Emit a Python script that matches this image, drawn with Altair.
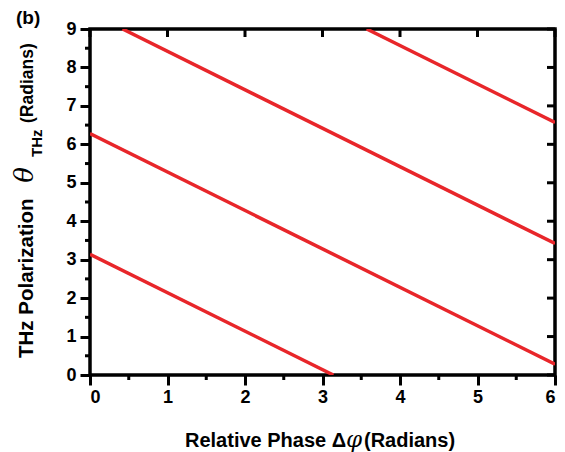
import altair as alt
import pandas as pd

# Line endpoints (each band is a straight line)
series = ["a", "a", "b", "b", "c", "c", "d", "d"]
phase = [0.0, 3.14, 0.0, 6.0, 0.42, 6.0, 3.57, 6.0]
theta = [3.14, 0.0, 6.28, 0.28, 9.0, 3.42, 9.0, 6.57]

x_ticks = [0, 1, 2, 3, 4, 5, 6]
y_ticks = [0, 1, 2, 3, 4, 5, 6, 7, 8, 9]
x_minor = [0.5, 1.5, 2.5, 3.5, 4.5, 5.5]
y_minor = [0.5, 1.5, 2.5, 3.5, 4.5, 5.5, 6.5, 7.5, 8.5]

FONT = "Liberation Sans"
W, H = 465, 346
RED = "#e8262a"

df = pd.DataFrame({"s": series, "x": phase, "y": theta})
xs = alt.Scale(domain=[0, 6], nice=False)
ys = alt.Scale(domain=[0, 9], nice=False)

xaxis = alt.Axis(values=x_ticks, title=None, domain=False, grid=False,
                 tickSize=10, tickWidth=3, tickColor="black",
                 labelFont=FONT, labelFontSize=18, labelFontWeight="bold",
                 labelColor="black", labelPadding=3)
yaxis = alt.Axis(values=y_ticks, title=None, domain=False, grid=False,
                 tickSize=10, tickWidth=3, tickColor="black",
                 labelFont=FONT, labelFontSize=18, labelFontWeight="bold",
                 labelColor="black", labelPadding=4)

lines = alt.Chart(df).mark_line(color=RED, strokeWidth=3.5, clip=True).encode(
    x=alt.X("x:Q", scale=xs, axis=xaxis),
    y=alt.Y("y:Q", scale=ys, axis=yaxis),
    detail="s:N",
)

xt = pd.DataFrame({"x": x_ticks})
yt = pd.DataFrame({"y": y_ticks})
xm = pd.DataFrame({"x": x_minor})
ym = pd.DataFrame({"y": y_minor})

top_ticks = alt.Chart(xt).mark_rule(color="black", strokeWidth=3).encode(
    x=alt.X("x:Q", scale=xs, axis=xaxis), y=alt.value(0), y2=alt.value(8))
right_ticks = alt.Chart(yt).mark_rule(color="black", strokeWidth=3).encode(
    y=alt.Y("y:Q", scale=ys, axis=yaxis), x=alt.value(W), x2=alt.value(W - 8))
bottom_minor = alt.Chart(xm).mark_rule(color="black", strokeWidth=3).encode(
    x=alt.X("x:Q", scale=xs, axis=xaxis), y=alt.value(H), y2=alt.value(H + 5))
left_minor = alt.Chart(ym).mark_rule(color="black", strokeWidth=3).encode(
    y=alt.Y("y:Q", scale=ys, axis=yaxis), x=alt.value(0), x2=alt.value(-5))

def txt(s, x, y, size=19, style="normal", align="left", angle=0,
        baseline="alphabetic", font=FONT, weight="bold"):
    return alt.Chart(pd.DataFrame({"t": [s]})).mark_text(
        font=font, fontSize=size, fontWeight=weight, fontStyle=style, align=align,
        baseline=baseline, angle=angle, color="black").encode(
        text="t:N", x=alt.value(x), y=alt.value(y))

xtitle = [
    txt("Relative Phase \u0394", 95, 418, size=20),
    txt("\u03c6", 256, 418, size=23, style="italic", font="DejaVu Serif", weight="normal"),
    txt("(Radians)", 274, 418, size=20),
]
ytitle = [
    txt("THz Polarization", -57, 329, size=20.5, angle=270),
    txt("\u03b8", -57, 146, size=26, style="italic", angle=270, align="center",
        font="DejaVu Serif", weight="normal"),
    txt("THz", -48, 128, size=15, angle=270),
    txt("(Radians)", -57, 94, size=17.5, angle=270),
]
label_b = txt("(b)", -74, -5, size=19)

chart = alt.layer(lines, top_ticks, right_ticks, bottom_minor, left_minor,
                  *xtitle, *ytitle, label_b).properties(
    width=W, height=H, autosize="none",
    padding={"left": 82, "top": 21, "right": 2, "bottom": 77},
).configure_view(stroke="black", strokeWidth=3.5)

chart.save("out.html", embed_options={"renderer": "svg", "actions": False})
